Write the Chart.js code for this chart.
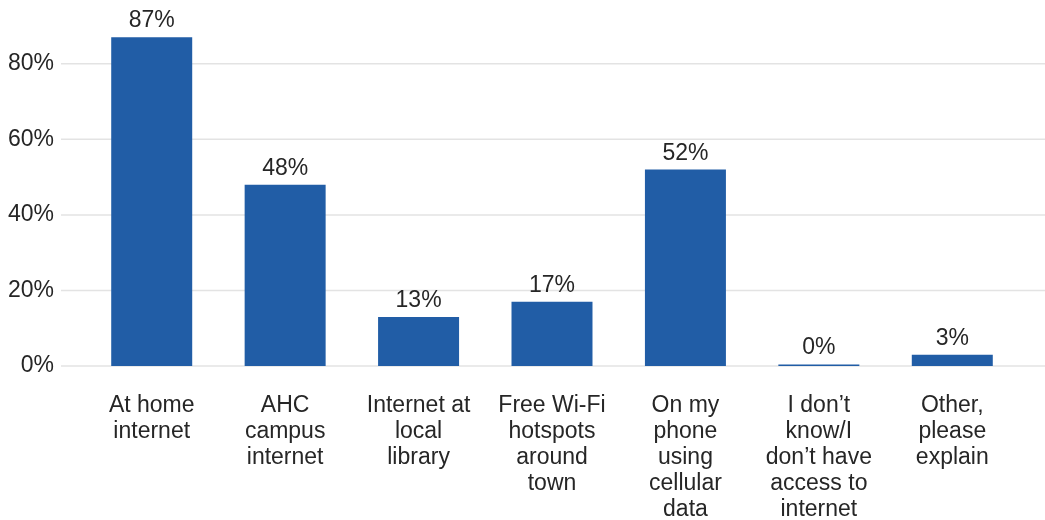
<!DOCTYPE html>
<html>
<head>
<meta charset="utf-8">
<script src="https://cdn.jsdelivr.net/npm/chart.js@4"></script>
<style>
  html, body { margin: 0; padding: 0; background: #fff; }
  #wrap { width: 1045px; height: 520px; }
</style>
</head>
<body>
<div id="wrap"><canvas id="chart" width="1045" height="520"></canvas></div>
<script>
// données
const categories = [
  ['At home', 'internet'],
  ['AHC', 'campus', 'internet'],
  ['Internet at', 'local', 'library'],
  ['Free Wi-Fi', 'hotspots', 'around', 'town'],
  ['On my', 'phone', 'using', 'cellular', 'data'],
  ['I don\u2019t', 'know/I', 'don\u2019t have', 'access to', 'internet'],
  ['Other,', 'please', 'explain'],
];
const shares = [87, 48, 13, 17, 52, 0.4, 3];
const yTicks = [0, 20, 40, 60, 80];

const textColor = '#262626';
const barColor = '#215da6';
const font = { family: '"Liberation Sans", Arial, sans-serif', size: 23, lineHeight: 1.13 };

// lignes de grille sur toute la largeur (comme dans l'original)
const fullGrid = {
  id: 'fullGrid',
  beforeDatasetsDraw(chart) {
    const { ctx, scales: { y } } = chart;
    ctx.save();
    ctx.strokeStyle = '#e3e3e3';
    ctx.lineWidth = 1.5;
    yTicks.forEach(v => {
      const py = y.getPixelForValue(v);
      ctx.beginPath();
      ctx.moveTo(61, py);
      ctx.lineTo(chart.width, py);
      ctx.stroke();
    });
    ctx.restore();
  },
};

// étiquettes au-dessus des barres
const valueLabels = {
  id: 'valueLabels',
  afterDatasetsDraw(chart) {
    const { ctx } = chart;
    const meta = chart.getDatasetMeta(0);
    ctx.save();
    ctx.font = `${font.size}px ${font.family}`;
    ctx.fillStyle = textColor;
    ctx.textAlign = 'center';
    ctx.textBaseline = 'alphabetic';
    meta.data.forEach((bar, i) => {
      ctx.fillText(Math.round(shares[i]) + '%', bar.x, bar.y - 10);
    });
    ctx.restore();
  },
};

const ctx = document.getElementById('chart').getContext('2d');
new Chart(ctx, {
  type: 'bar',
  data: {
    labels: categories,
    datasets: [{
      data: shares,
      backgroundColor: barColor,
      borderWidth: 0,
      barPercentage: 0.607,
      categoryPercentage: 1,
    }],
  },
  options: {
    responsive: false,
    animation: false,
    layout: { padding: { top: 26, right: 26, bottom: 0, left: 0 } },
    plugins: { legend: { display: false }, tooltip: { enabled: false } },
    scales: {
      x: {
        grid: { display: false, drawTicks: false },
        border: { display: false },
        ticks: { color: textColor, font: font, padding: 27, maxRotation: 0, autoSkip: false },
        afterFit: (scale) => { scale.height = 154; },
      },
      y: {
        min: 0,
        max: 90,
        grid: { display: false, drawTicks: false },
        border: { display: false },
        ticks: {
          color: textColor,
          font: font,
          padding: 31,
          callback: (v) => v + '%',
        },
        afterBuildTicks: (axis) => { axis.ticks = yTicks.map(v => ({ value: v })); },
        afterFit: (scale) => {
          scale.width = 85;
          // le padding des ticks ne doit pas réduire la zone du graphique
          scale.paddingTop = 0;
          scale.paddingBottom = 0;
        },
      },
    },
  },
  plugins: [fullGrid, valueLabels],
});
</script>
</body>
</html>
